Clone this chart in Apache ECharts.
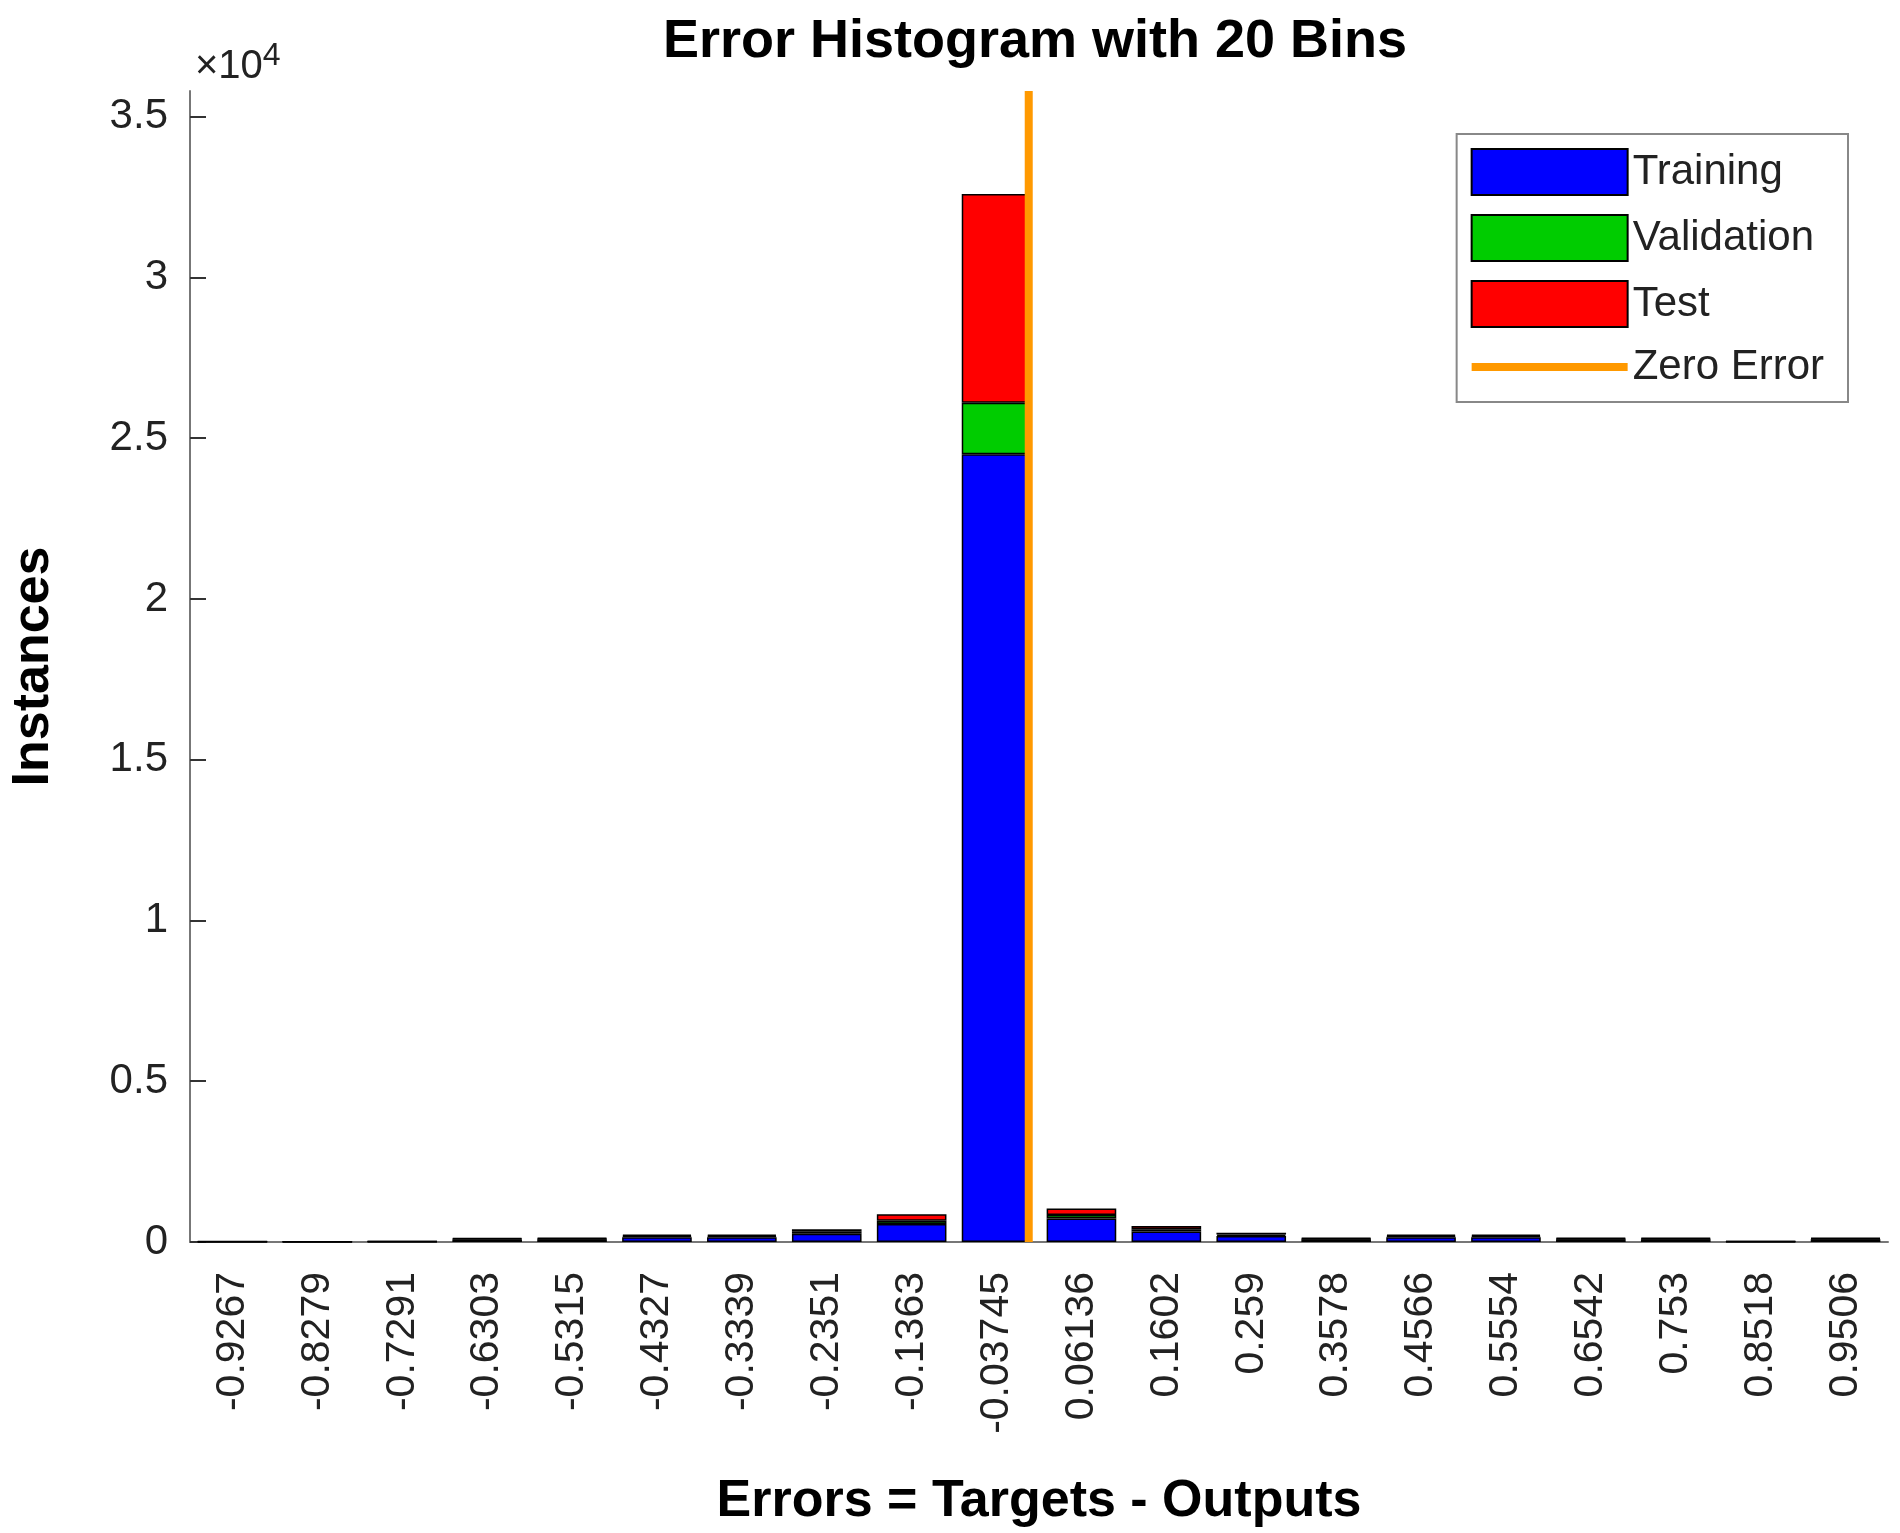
<!DOCTYPE html><html><head><meta charset="utf-8">
<script src="https://cdn.jsdelivr.net/npm/echarts@6/dist/echarts.min.js"></script>
<style>html,body{margin:0;background:#fff}#c{width:1900px;height:1533px}</style></head><body><div id="c"></div>
<script>
const categories=['-0.9267','-0.8279','-0.7291','-0.6303','-0.5315','-0.4327','-0.3339','-0.2351','-0.1363','-0.03745','0.06136','0.1602','0.259','0.3578','0.4566','0.5554','0.6542','0.753','0.8518','0.9506'];
const training=[10,8,12,80,85,150,150,260,560,24500,730,330,190,85,150,150,85,85,12,85];
const validation=[3,2,3,20,20,35,35,60,100,1600,110,70,40,20,35,35,20,20,3,20];
const test=[5,3,5,25,20,45,45,80,200,6500,200,100,60,20,45,45,20,20,5,20];
const zeroLine=[[0,0],[0,35800]];
const F='Liberation Sans, Arial, sans-serif';
const ch=echarts.init(document.getElementById('c'));
const bar=(name,data,color)=>({name,type:'bar',stack:'s',data,barCategoryGap:'18%',itemStyle:{color,borderColor:'#000',borderWidth:1.5},xAxisIndex:0,yAxisIndex:0});
ch.setOption({
 animation:false,
 title:{text:'Error Histogram with 20 Bins',left:1030,top:10,textAlign:'center',textStyle:{fontFamily:F,fontSize:54,fontWeight:'bold',color:'#000'}},
 grid:{left:188,right:12,top:91,bottom:281},
 legend:{right:52,top:134,orient:'vertical',itemWidth:156,itemHeight:46,itemGap:18,padding:[14,24,14,14],backgroundColor:'#fff',borderColor:'#888',borderWidth:2,
   textStyle:{fontFamily:F,fontSize:42,color:'#222'},
   data:[{name:'Training',icon:'rect'},{name:'Validation',icon:'rect'},{name:'Test',icon:'rect'},{name:'Zero Error',icon:'path://M0,0L100,0L100,5L0,5Z'}]},
 xAxis:[{type:'category',data:categories,name:'Errors = Targets - Outputs',nameLocation:'middle',nameGap:234,
   nameTextStyle:{fontFamily:F,fontSize:52,fontWeight:'bold',color:'#000'},
   axisLine:{lineStyle:{color:'#777',width:2}},axisTick:{inside:true,alignWithLabel:true,length:16,lineStyle:{color:'#333',width:2}},
   axisLabel:{rotate:90,fontFamily:F,fontSize:41,color:'#222',margin:30}},
  {type:'value',min:-0.9761,max:1.0,show:false}],
 yAxis:[{type:'value',min:0,max:35800,interval:5000,name:'Instances',nameLocation:'middle',nameGap:130,
   nameTextStyle:{fontFamily:F,fontSize:52,fontWeight:'bold',color:'#000'},
   axisLine:{show:true,onZero:false,lineStyle:{color:'#777',width:2}},axisTick:{show:true,inside:true,length:16,lineStyle:{color:'#333',width:2}},splitLine:{show:false},
   axisLabel:{showMaxLabel:false,fontFamily:F,fontSize:42,color:'#222',margin:22,formatter:v=>String(v/10000)}},
  {type:'value',min:0,max:35800,show:false}],
 graphic:[{type:'text',left:195,top:40,style:{text:'×10{s|4}',rich:{s:{fontSize:32,verticalAlign:'top',fontFamily:F,fill:'#222',padding:[0,0,22,0]}},fontSize:40,fontFamily:F,fill:'#222'}}],
 series:[bar('Training',training,'#0000ff'),bar('Validation',validation,'#00cc00'),bar('Test',test,'#ff0000'),
  {name:'Zero Error',type:'line',xAxisIndex:1,yAxisIndex:1,data:zeroLine,symbol:'none',lineStyle:{color:'#ff9900',width:8},itemStyle:{color:'#ff9900'},z:5}]
});
</script></body></html>
